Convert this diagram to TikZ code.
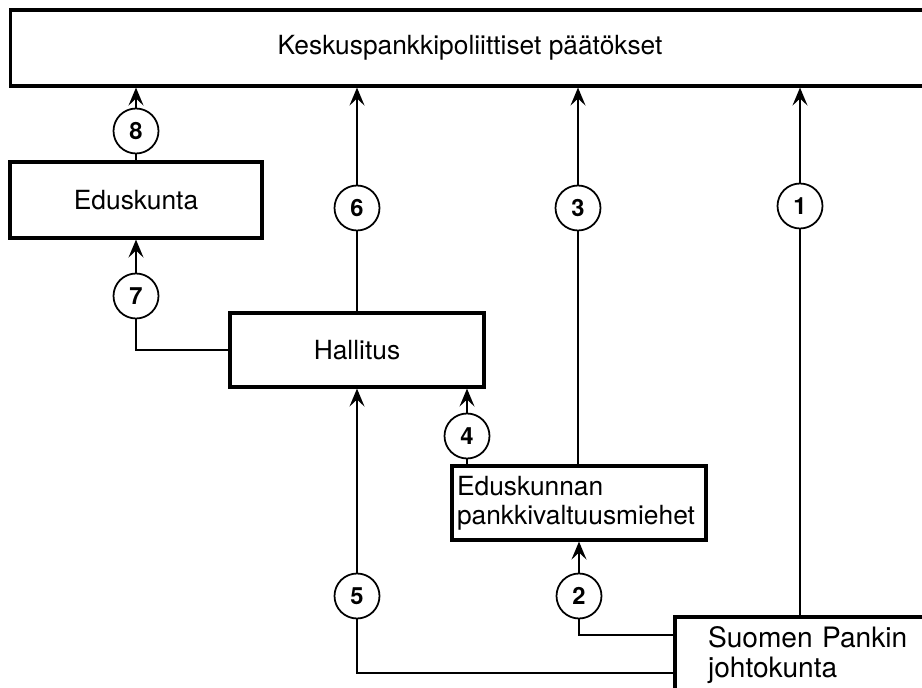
\documentclass[tikz,border=0pt]{standalone}
\usepackage{fontspec}
\setmainfont{TeX Gyre Heros}
\usetikzlibrary{arrows.meta}

\begin{document}
\begin{tikzpicture}[x=0.02cm, y=-0.02cm,
		box/.style={draw, line width=1.8pt, inner sep=0pt, font=\fontsize{15}{16.5}\selectfont},
		num/.style={draw, circle, fill=white, line width=1pt, minimum size=0.9cm, inner sep=0pt, font=\fontsize{13.5}{15}\selectfont\bfseries},
		link/.style={line width=1.1pt},
		arr/.style={link, -{Stealth[length=0.36cm, width=0.3cm, inset=0.14cm]}}]
	\useasboundingbox (0, 0) rectangle (922, 688);
	\node[box, minimum width=18.4cm, minimum height=1.52cm] (paatos) at (470, 48) {Keskuspankkipoliittiset päätökset};
	\node[box, minimum width=5.04cm, minimum height=1.52cm] (eduskunta) at (136, 200) {Eduskunta};
	\node[box, minimum width=5.08cm, minimum height=1.48cm] (hallitus) at (357, 350) {Hallitus};
	\node[box, minimum width=5.08cm, minimum height=1.48cm, text width=4.88cm, align=left] (pankki) at (579, 503) {Eduskunnan\\pankkivaltuusmiehet};
	\node[box, minimum width=6cm, minimum height=1.52cm, text width=4.68cm, align=left, font=\fontsize{16}{17}\selectfont] (suomen) at (825, 655) {Suomen Pankin\\johtokunta};
	\coordinate (s2) at (675, 635);
	\coordinate (s5) at (675, 673);
	\node[num] (c1) at (800, 206) {1};
	\node[num] (c2) at (579, 596) {2};
	\node[num] (c3) at (578, 208) {3};
	\node[num] (c4) at (467, 436) {4};
	\node[num] (c5) at (357, 596) {5};
	\node[num] (c6) at (357, 208) {6};
	\node[num] (c7) at (136, 296) {7};
	\node[num] (c8) at (136, 131) {8};
	\draw[link] (c1) -- (c1 |- suomen.north);
	\draw[arr] (c1) -- (c1 |- paatos.south);
	\draw[link] (c2) |- (s2);
	\draw[arr] (c2) -- (c2 |- pankki.south);
	\draw[link] (c3) -- (c3 |- pankki.north);
	\draw[arr] (c3) -- (c3 |- paatos.south);
	\draw[link] (c4) -- (c4 |- pankki.north);
	\draw[arr] (c4) -- (c4 |- hallitus.south);
	\draw[link] (c5) |- (s5);
	\draw[arr] (c5) -- (c5 |- hallitus.south);
	\draw[link] (c6) -- (c6 |- hallitus.north);
	\draw[arr] (c6) -- (c6 |- paatos.south);
	\draw[link] (c7) |- (hallitus.west);
	\draw[arr] (c7) -- (c7 |- eduskunta.south);
	\draw[link] (c8) -- (c8 |- eduskunta.north);
	\draw[arr] (c8) -- (c8 |- paatos.south);
\end{tikzpicture}
\end{document}
